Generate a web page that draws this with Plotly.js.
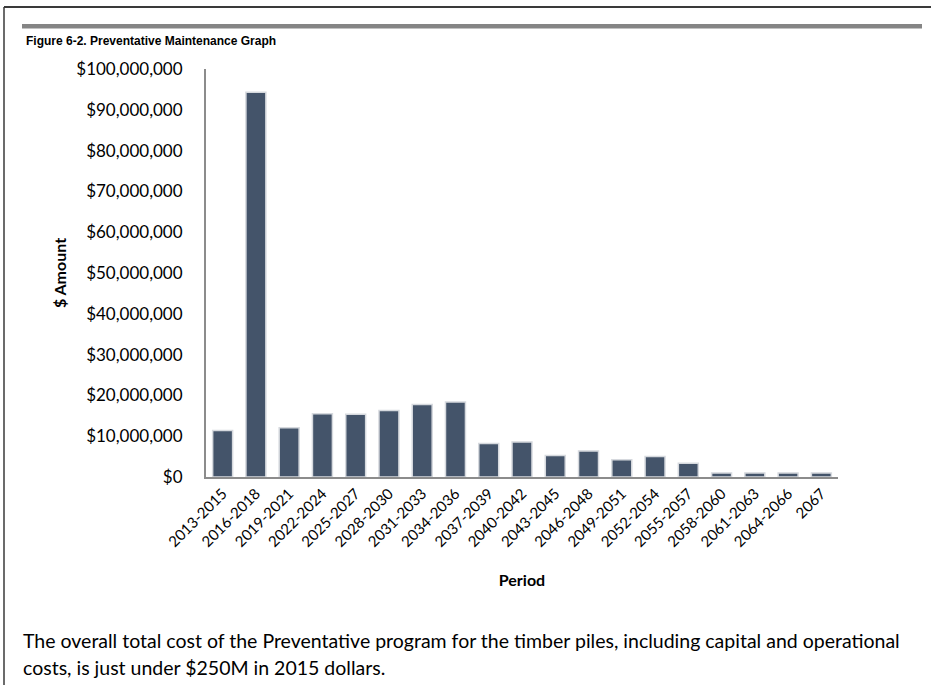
<!DOCTYPE html>
<html>
<head>
<meta charset="utf-8">
<script src="https://cdn.plot.ly/plotly-3.0.1.min.js"></script>
<style>
html,body{margin:0;padding:0;background:#fff;}
#chart{width:931px;height:685px;}
</style>
</head>
<body>
<div id="chart"></div>
<script>
// ---- data ----
var periods = ["2013-2015","2016-2018","2019-2021","2022-2024","2025-2027","2028-2030","2031-2033","2034-2036","2037-2039","2040-2042","2043-2045","2046-2048","2049-2051","2052-2054","2055-2057","2058-2060","2061-2063","2064-2066","2067"];
var amounts = [11400000,94300000,12100000,15500000,15400000,16300000,17800000,18400000,8200000,8600000,5300000,6400000,4200000,5000000,3400000,1000000,1000000,1000000,1000000];
var yTickVals = [0,10000000,20000000,30000000,40000000,50000000,60000000,70000000,80000000,90000000,100000000];
var yTickText = ["$0","$10,000,000","$20,000,000","$30,000,000","$40,000,000","$50,000,000","$60,000,000","$70,000,000","$80,000,000","$90,000,000","$100,000,000"];
var figureTitle = "Figure 6-2. Preventative Maintenance Graph";
var yTitle = "$ Amount";
var xTitle = "Period";
var caption1 = "The overall total cost of the Preventative program for the timber piles, including capital and operational";
var caption2 = "costs, is just under $250M in 2015 dollars.";

// ---- layout helpers ----
var W = 931, H = 685;
var M = {l:206, r:93, t:69, b:208};
function px(x){ return (x - M.l) / (W - M.l - M.r); }
function py(y){ return (H - M.b - y) / (H - M.t - M.b); }

var body = "Lato, 'Open Sans', sans-serif";

var trace = {
  type: "bar",
  x: periods,
  y: amounts,
  marker: {color: "#44546a", line: {color: "#d6d9de", width: 1.5}},
  hoverinfo: "x+y"
};

var layout = {
  width: W, height: H,
  margin: M,
  paper_bgcolor: "#fff",
  plot_bgcolor: "#fff",
  showlegend: false,
  bargap: 0.4,
  font: {family: body, color: "#000"},
  xaxis: {
    type: "category",
    tickangle: -45,
    tickfont: {family: body, size: 15, color: "#000"},
    showline: true, linecolor: "#8c8c8c", linewidth: 2,
    ticks: "", showgrid: false, zeroline: false,
    title: {text: "<b>" + xTitle + "</b>", font: {family: body, size: 16, color: "#000"}, standoff: 26}
  },
  yaxis: {
    range: [0, 100000000],
    tickmode: "array",
    tickvals: yTickVals,
    ticktext: yTickText,
    tickfont: {family: body, size: 17, color: "#000"},
    ticklabelstandoff: 18,
    showline: true, linecolor: "#8c8c8c", linewidth: 2,
    ticks: "", showgrid: false, zeroline: false,
    title: {text: "<b>" + yTitle + "</b>", font: {family: body, size: 16, color: "#000"}, standoff: 6}
  },
  shapes: [
    {type:"line", xref:"paper", yref:"paper", x0:px(4), x1:px(931), y0:py(7), y1:py(7), line:{color:"#3a3a3a", width:2}},
    {type:"line", xref:"paper", yref:"paper", x0:px(4), x1:px(4), y0:py(7), y1:py(685), line:{color:"#3a3a3a", width:1.5}},
    {type:"rect", xref:"paper", yref:"paper", x0:px(22), x1:px(922), y0:py(24), y1:py(28.5), fillcolor:"#858585", line:{width:0}}
  ],
  annotations: [
    {xref:"paper", yref:"paper", x:px(24), y:py(41), xanchor:"left", yanchor:"middle", showarrow:false,
     text:"<b>" + figureTitle + "</b>", font:{family:"'Liberation Sans Narrow', 'Arial Narrow', sans-serif", size:12, color:"#000"}},
    {xref:"paper", yref:"paper", x:px(21), y:py(640), xanchor:"left", yanchor:"middle", showarrow:false,
     text: caption1, font:{family: body, size:19.5, color:"#000"}},
    {xref:"paper", yref:"paper", x:px(21), y:py(667), xanchor:"left", yanchor:"middle", showarrow:false,
     text: caption2, font:{family: body, size:19.5, color:"#000"}}
  ]
};

Plotly.newPlot("chart", [trace], layout, {displayModeBar:false, staticPlot:true});
</script>
</body>
</html>
